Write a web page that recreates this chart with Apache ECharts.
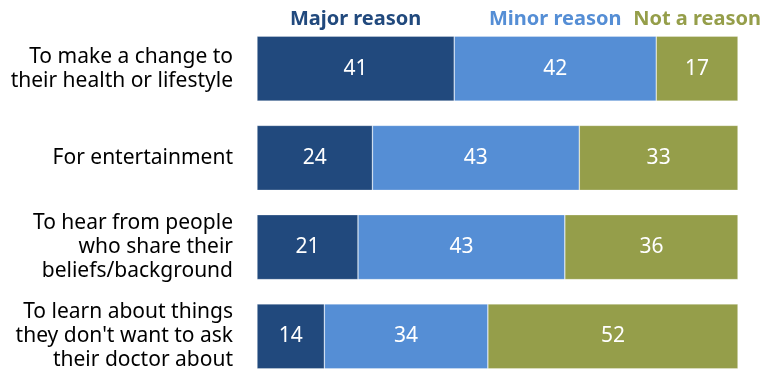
<!DOCTYPE html>
<html>
<head>
<meta charset="utf-8">
<script src="https://cdn.jsdelivr.net/npm/echarts@6/dist/echarts.min.js"></script>
<style>
html, body { margin: 0; padding: 0; background: #fff; }
#box1 { width: 780px; height: 381px; }
</style>
</head>
<body>
<div id="box1"></div>
<script>
var categories = [
    'To make a change to\ntheir health or lifestyle',
    'For entertainment',
    'To hear from people\nwho share their\nbeliefs/background',
    'To learn about things\nthey don\'t want to ask\ntheir doctor about'
];
var seriesNames = ['Major reason', 'Minor reason', 'Not a reason'];
var majorVals = [41, 24, 21, 14];
var minorVals = [42, 43, 43, 34];
var notVals = [17, 33, 36, 52];
var colors = ['#21497d', '#558ed5', '#959e4a'];

var fontName = 'Noto Sans';
var chart = echarts.init(document.getElementById('box1'));

function makeSeries(name, vals, idx) {
    return {
        name: name,
        type: 'bar',
        stack: 'total',
        barWidth: 65,
        data: vals,
        itemStyle: { color: colors[idx], borderColor: 'rgba(255,255,255,0.5)', borderWidth: 0.6 },
        label: {
            show: true,
            position: 'inside',
            color: '#fff',
            fontFamily: fontName,
            fontSize: 21
        },
        silent: true
    };
}

var option = {
    animation: false,
    grid: { left: 257, top: 24, width: 481, height: 366, containLabel: false },
    xAxis: {
        type: 'value',
        min: 0,
        max: 100,
        show: false
    },
    yAxis: {
        type: 'category',
        inverse: true,
        data: categories,
        axisLine: { show: false },
        axisTick: { show: false },
        axisLabel: {
            margin: 24,
            color: '#000',
            fontFamily: fontName,
            fontSize: 21,
            lineHeight: 24,
            align: 'right'
        }
    },
    series: [
        makeSeries(seriesNames[0], majorVals, 0),
        makeSeries(seriesNames[1], minorVals, 1),
        makeSeries(seriesNames[2], notVals, 2)
    ]
};
chart.setOption(option);

// headers centred over the first bar's segments
var cum = 0;
var firstRow = [majorVals[0], minorVals[0], notVals[0]];
var headers = [];
for (var i = 0; i < 3; i++) {
    var mid = cum + firstRow[i] / 2;
    cum += firstRow[i];
    var pt = chart.convertToPixel({ gridIndex: 0 }, [mid, 0]);
    headers.push({
        type: 'text',
        x: pt[0],
        y: 19,
        style: {
            text: seriesNames[i],
            fill: colors[i],
            font: 'bold 20px "' + fontName + '"',
            textAlign: 'center',
            textVerticalAlign: 'middle'
        }
    });
}
chart.setOption({ graphic: headers });
</script>
</body>
</html>
